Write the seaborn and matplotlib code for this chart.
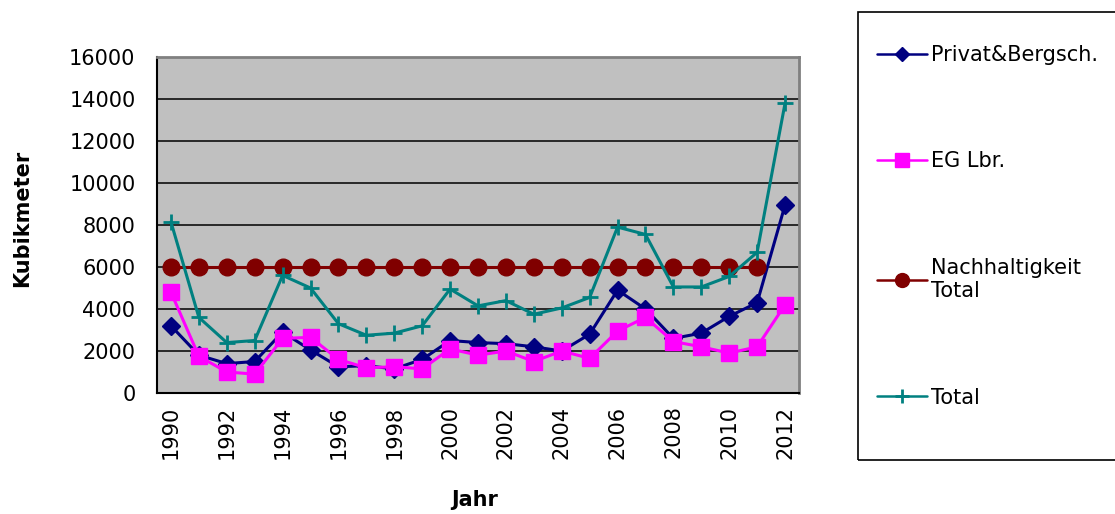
import numpy as np
import pandas as pd
import matplotlib
matplotlib.use("Agg")
import matplotlib.pyplot as plt
from matplotlib.patches import Rectangle
import seaborn as sns

# %% Data ----
years = list(range(1990, 2013))
privat = [3200, 1800, 1400, 1500, 2900, 2050, 1250, 1300, 1150, 1600, 2500, 2400,
          2350, 2200, 2000, 2800, 4900, 4000, 2600, 2850, 3650, 4300, 8950]
eg_lbr = [4800, 1750, 1000, 900, 2600, 2650, 1600, 1200, 1250, 1150, 2100, 1800,
          2000, 1500, 2000, 1650, 2950, 3600, 2450, 2200, 1900, 2200, 4200]
nachhaltigkeit = [6000, 6000, 6000, 6000, 6000, 6000, 6000, 6000, 6000, 6000, 6000, 6000,
                  6000, 6000, 6000, 6000, 6000, 6000, 6000, 6000, 6000, 6000, np.nan]
total = [8150, 3600, 2400, 2500, 5600, 5000, 3300, 2750, 2850, 3200, 4950, 4150,
         4400, 3750, 4050, 4550, 7900, 7550, 5050, 5050, 5550, 6700, 13800]

labels = ['Privat&Bergsch.', 'EG Lbr.', 'Nachhaltigkeit\nTotal', 'Total']
y_ticks = list(range(0, 16001, 2000))
x_labels = [str(y) for y in years if y % 2 == 0]

# %% Style ----
sns.set_style("white")
plt.rcParams['font.family'] = ['DejaVu Sans']
plt.rcParams['text.color'] = 'black'
plt.rcParams['axes.labelcolor'] = 'black'
plt.rcParams['xtick.color'] = 'black'
plt.rcParams['ytick.color'] = 'black'

fig = plt.figure(figsize=(11.15, 5.14), dpi=100)
ax = fig.add_axes([0.1408, 0.2354, 0.5758, 0.6537])
ax.set_facecolor('#C0C0C0')

series = [
    (privat, '#000080', 'D', 9, 1),
    (eg_lbr, '#FF00FF', 's', 11, 1),
    (nachhaltigkeit, '#800000', 'o', 12, 1),
    (total, '#008080', '+', 12, 2),
]
for (vals, col, mk, ms, mew), lab in zip(series, labels):
    df = pd.DataFrame({'year': years, 'value': vals}).dropna()
    sns.lineplot(data=df, x='year', y='value', ax=ax, color=col, marker=mk,
                 markersize=ms, markeredgecolor=col, markeredgewidth=mew,
                 linewidth=2.2, label=lab)

# %% Axes ----
ax.set_xlim(years[0] - 0.5, years[-1] + 0.5)
ax.set_ylim(0, 16000)
ax.set_yticks(y_ticks)
ax.set_yticklabels([str(v) for v in y_ticks], fontsize=15)
ax.yaxis.grid(True, color='black', linewidth=1.1)
ax.set_axisbelow(True)

ax.set_xticks([y for y in years if y % 2 == 0])
ax.set_xticklabels(x_labels, rotation=90, fontsize=15)
ax.set_xticks(np.arange(years[0] - 0.5, years[-1] + 1), minor=True)
ax.tick_params(axis='x', which='major', length=0, pad=9)
ax.tick_params(axis='x', which='minor', length=6, width=1, color='black', direction='out')
ax.tick_params(axis='y', which='major', length=6.5, width=1, color='black', direction='out', pad=9)

for s in ['top', 'right']:
    ax.spines[s].set_color('#808080')
    ax.spines[s].set_linewidth(2)
for s in ['left', 'bottom']:
    ax.spines[s].set_color('black')
    ax.spines[s].set_linewidth(1.5)

ax.set_xlabel('Jahr', fontsize=15, fontweight='bold')
ax.set_ylabel('Kubikmeter', fontsize=15, fontweight='bold')
ax.xaxis.set_label_coords(0.495, -0.29)
ax.yaxis.set_label_coords(-0.195, 0.52)

# %% Legend ----
leg = ax.legend(loc='upper left', bbox_to_anchor=(877 / 1115, 1 - 45 / 514),
                bbox_transform=fig.transFigure, frameon=False, fontsize=15,
                borderpad=0, borderaxespad=0, handlelength=2.4,
                handletextpad=0.2, labelspacing=4.15)
for h, ms in zip(leg.legend_handles, [7, 10, 10, 10]):
    h.set_markersize(ms)
    h.set_linewidth(1.8)
fig.add_artist(Rectangle((858 / 1115, 1 - 460 / 514), 0.3, 448 / 514, fill=False,
                         edgecolor='black', linewidth=1.2, transform=fig.transFigure))

fig.savefig('out.png', dpi=100)
